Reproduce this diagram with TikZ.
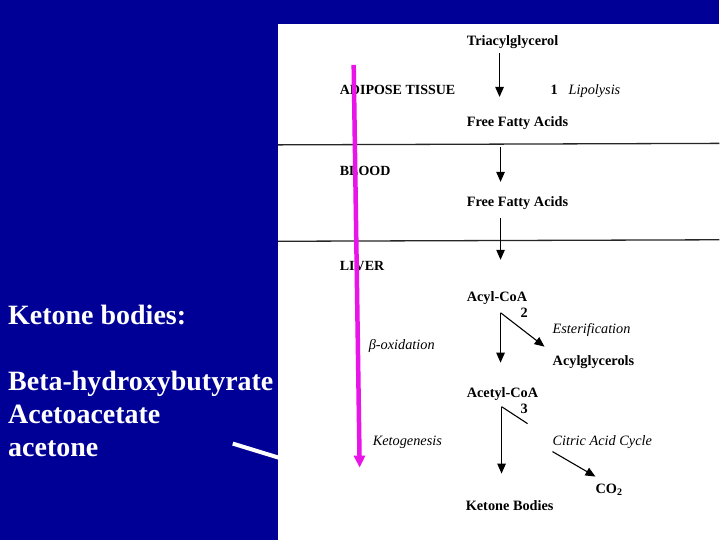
\documentclass[tikz,border=0pt]{standalone}
\usepackage{fontspec}
\setmainfont{Liberation Serif}
\usetikzlibrary{arrows.meta, positioning}

\definecolor{slideblue}{RGB}{0,0,150}
\definecolor{penmagenta}{RGB}{232,20,232}

\begin{document}
\begin{tikzpicture}[
        % 以像素为单位，y 轴向下
        x=1pt, y=-1pt,
        % 化合物名称样式
        compound/.style={
            font=\fontsize{14.3}{16}\selectfont\bfseries,
            inner sep=0pt,
            anchor=base west
        },
        % 过程名称样式 (斜体)
        process/.style={
            font=\fontsize{14.3}{16}\selectfont\itshape,
            inner sep=0pt,
            anchor=base west
        },
        % 组织名称样式
        tissue/.style={
            font=\fontsize{14}{16}\selectfont\bfseries,
            inner sep=0pt,
            anchor=base west
        },
        % 左侧幻灯片文字
        slide_text/.style={
            font=\fontsize{28}{32}\selectfont\bfseries,
            text=white,
            inner sep=0pt,
            anchor=base west
        },
        % 定义箭头样式
        arrow/.style={
            -{Triangle[length=10pt,width=8.5pt]},
            line width=1.1pt
        },
        % 分隔线样式
        divider/.style={
            line width=1.3pt,
            black!85
        }
    ]

    % 1. 背景与白色面板
    \fill[slideblue] (0,0) rectangle (720,540);
    \draw[white, line width=4pt] (233,444) -- (282,459);
    \fill[white] (278,24) rectangle (720,540);

    % 左侧文字
    \node[slide_text] (title) at (8,325) {Ketone bodies:};
    \node[slide_text] (bhb) at (8,391) {Beta-hydroxybutyrate};
    \node[slide_text] (acac) at (8,424) {Acetoacetate};
    \node[slide_text] (acetone) at (8,457) {acetone};

    % 2. 脂肪组织
    \node[compound] (tag) at (467,46) {Triacylglycerol};
    \node[tissue] (adipose) at (340,95) {ADIPOSE TISSUE};
    \node[compound] (n1) at (551,95) {1};
    \node[process] (lipolysis) at (569,95) {Lipolysis};
    \node[compound] (ffa1) at (467,127) {Free Fatty Acids};
    \draw[divider] (278,145) -- (720,143.5);

    % 3. 血液
    \node[tissue] (blood) at (340,176) {BLOOD};
    \node[compound] (ffa2) at (467,207) {Free Fatty Acids};
    \draw[divider] (278,241.5) -- (720,240);

    % 4. 肝脏
    \node[tissue] (liver) at (340,271) {LIVER};
    \node[compound] (acylcoa) at (467,302) {Acyl-CoA};
    \node[compound] (n2) at (521,318) {2};
    \node[process] (ester) at (553,334) {Esterification};
    \node[process] (betaox) at (369,350) {β-oxidation};
    \node[compound] (acylgly) at (553,366) {Acylglycerols};
    \node[compound] (acetylcoa) at (467,398) {Acetyl-CoA};
    \node[compound] (n3) at (521,414) {3};
    \node[process] (ketogen) at (373,446) {Ketogenesis};
    \node[process] (citric) at (553,446) {Citric Acid Cycle};
    \node[compound] (co2) at (596,494) {CO\textsubscript{2}};
    \node[compound] (ketone) at (466,511) {Ketone Bodies};

    % 箭头端点
    \coordinate (lip_s) at (500,53);
    \coordinate (lip_e) at (500,97);
    \coordinate (bl_s) at (501,147);
    \coordinate (bl_e) at (501,182);
    \coordinate (lv_s) at (501,218);
    \coordinate (lv_e) at (501,260);
    \coordinate (ac_s) at (501,313);
    \coordinate (ac_e) at (501,363);
    \coordinate (es_e) at (545,347);
    \coordinate (kt_s) at (502,407);
    \coordinate (kt_e) at (502,474);
    \coordinate (tca_e) at (528,424);
    \coordinate (co_s) at (553,452);
    \coordinate (co_e) at (596,477);

    % 5. 绘制连线
    \draw[arrow] (lip_s) -- (lip_e);
    \draw[arrow] (bl_s) -- (bl_e);
    \draw[arrow] (lv_s) -- (lv_e);
    \draw[arrow] (ac_s) -- (ac_e);
    \draw[arrow] (ac_s) -- (es_e);
    \draw[arrow] (kt_s) -- (kt_e);
    \draw[line width=1.1pt] (kt_s) -- (tca_e);
    \draw[arrow] (co_s) -- (co_e);

    % 6. 手绘品红箭头
    \coordinate (pen_s) at (354,65);
    \coordinate (pen_e) at (360,468);
    \draw[penmagenta, line width=4.5pt, -{Triangle[length=12pt,width=11pt]}] (pen_s) -- (pen_e);

    \end{tikzpicture}
\end{document}
